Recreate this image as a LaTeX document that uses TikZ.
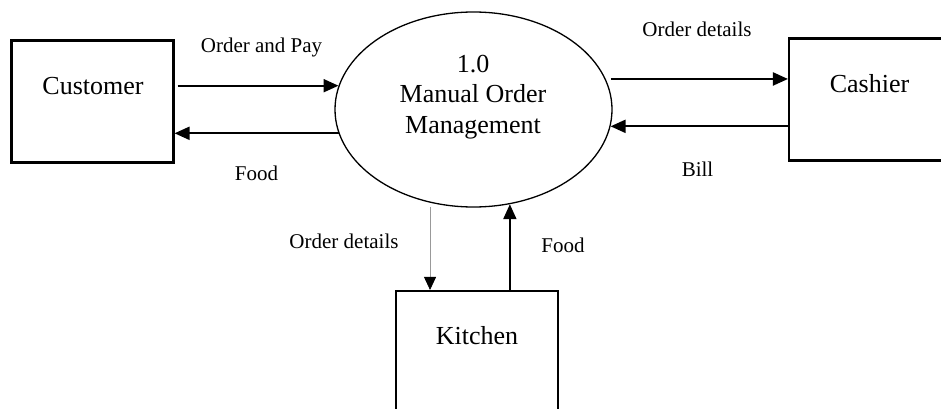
\documentclass[tikz,border=0pt]{standalone}
\usepackage{fontspec}
\setmainfont{Liberation Serif}
\usetikzlibrary{arrows.meta,shapes.geometric}
\begin{document}
\begin{tikzpicture}[x=1pt,y=-1pt,
  entity/.style={draw,line width=2.1pt,rectangle,inner sep=0pt,minimum width=162pt,minimum height=122pt},
  process/.style={draw,line width=1.3pt,ellipse,inner sep=0pt,minimum width=277pt,minimum height=195pt},
  bigtext/.style={font=\fontsize{26}{30.5}\selectfont,inner sep=0pt,anchor=base,align=center},
  flowlabel/.style={font=\fontsize{21}{24}\selectfont,inner sep=0pt,anchor=base},
  flow/.style={-{Triangle[length=15pt,width=13pt]},line width=2.1pt},
  thinflow/.style={-{Triangle[length=13pt,width=12pt,color=black]},line width=0.8pt,draw=black!40}
]
\useasboundingbox (0,0) rectangle (941,409);
\clip (0,0) rectangle (941,409);
% entities
\node[entity] (cust) at (92.5,101.5) {};
\node[entity] (cash) at (870,99.5) {};
\node[entity,minimum height=123pt] (kit) at (477,352.5) {};
\node[bigtext] (custtext) at (93,95) {Customer};
\node[bigtext] (cashtext) at (869.5,92.7) {Cashier};
\node[bigtext] (kittext) at (477,344) {Kitchen};
% process
\node[process] (proc) at (473.5,109.5) {};
\node[font=\fontsize{26}{30.5}\selectfont,inner sep=0pt,align=center] (proctext) at (473,97) {1.0\\Manual Order\\Management};
% flows
\draw[flow,shorten <=3pt] (cust.east |- proc.170) -- (proc.170);
\draw[flow] (proc.190) -- (cust.east |- proc.190);
\draw[flow,shorten <=5pt] (proc.13) -- (cash.west |- proc.13);
\draw[flow] (cash.west |- proc.-7) -- (proc.-7);
\draw[thinflow,shorten <=4pt] (proc.-115) -- (kit.north -| proc.-115);
\draw[flow] (kit.north -| proc.-69) -- (proc.-69);
% labels
\node[flowlabel] (l1) at (261.5,53) {Order and Pay};
\node[flowlabel] (l2) at (256.5,180.7) {Food};
\node[flowlabel] (l3) at (697,36.7) {Order details};
\node[flowlabel] (l4) at (697.5,176.7) {Bill};
\node[flowlabel] (l5) at (344,248) {Order details};
\node[flowlabel] (l6) at (563,252.7) {Food};
\end{tikzpicture}
\end{document}
